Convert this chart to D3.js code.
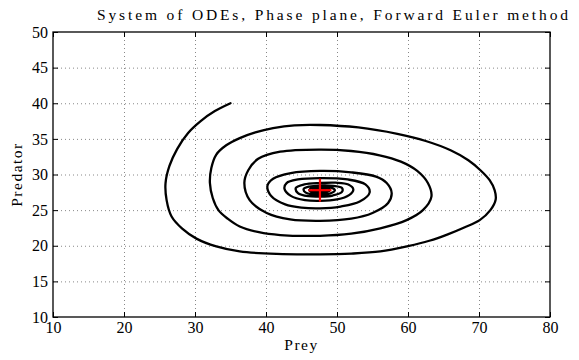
<!DOCTYPE html>
<html>
<head>
<meta charset="utf-8">
<script src="https://cdn.jsdelivr.net/npm/d3@7"></script>
<style>
  html, body { margin: 0; padding: 0; background: #fff; }
  svg { display: block; }
  text { font-family: "Liberation Serif", "DejaVu Serif", serif; fill: #000; }
</style>
</head>
<body>
<svg id="chart" width="579" height="360"></svg>
<script>
// Trajectory of the predator-prey system (prey, predator), in order of time
const preyValues = [
  35.0, 32.8, 30.8, 29.0, 27.5, 26.4, 25.85, 26.0, 26.7, 28.2, 30.2, 33.0, 36.3, 41.5, 47.6, 52.0, 56.1,
  60.0, 63.0, 65.6, 68.0, 70.1, 71.6, 72.35, 72.2, 71.5, 70.2, 68.5, 66.0, 62.5, 58.5, 53.0, 47.6,
  44.0, 41.0, 38.5, 36.3, 34.4, 33.0, 32.3, 32.1, 32.5, 33.3, 34.6, 36.3, 39.0, 42.0, 47.6, 52.0,
  56.1, 59.8, 62.1, 63.3, 62.8, 61.3, 59.0, 56.0, 52.0, 47.6, 42.0, 38.9, 37.5, 36.95, 37.7,
  40.1, 43.4, 47.6, 52.0, 55.0, 57.2, 57.7, 57.0, 55.5, 52.0, 47.6, 43.5, 41.0, 40.2, 40.8,
  42.7, 45.0, 47.6, 50.5, 53.2, 54.6, 54.0, 51.5, 47.6, 44.5, 42.9, 42.6, 43.5, 45.5, 47.6,
  50.0, 51.7, 52.3, 51.6, 49.8, 47.6, 45.4, 44.2, 44.5, 46.0, 47.6, 49.4, 50.7, 50.7, 49.5,
  47.6, 46.1, 45.3, 45.6, 46.6, 47.6, 48.9, 49.7, 49.2, 47.6, 46.5, 46.1, 46.5, 47.6, 48.6,
  49.0, 48.6, 47.6, 46.8, 46.6, 47.0, 47.6, 48.2, 48.4, 47.6, 47.1, 47.6, 47.9, 47.6
];
const predatorValues = [
  40.0, 38.9, 37.5, 35.8, 33.6, 31.2, 28.8, 26.4, 24.1, 22.4, 21.0, 19.9, 19.2, 18.85, 18.8, 18.9, 19.2,
  19.95, 20.7, 21.6, 22.6, 23.6, 25.0, 26.5, 27.8, 29.2, 30.6, 32.0, 33.4, 34.7, 35.7, 36.6, 36.95,
  36.9, 36.5, 35.9, 35.1, 34.1, 32.8, 30.9, 28.8, 26.7, 25.0, 23.8, 22.7, 21.9, 21.5, 21.4, 21.7,
  22.45, 23.6, 25.0, 26.9, 28.8, 30.5, 31.8, 32.7, 33.3, 33.5, 33.2, 32.2, 30.6, 28.8, 26.4,
  24.6, 23.7, 23.5, 23.8, 24.6, 26.0, 27.4, 28.8, 29.7, 30.3, 30.5, 30.2, 29.4, 28.4, 26.9,
  25.8, 25.35, 25.25, 25.5, 26.2, 27.5, 28.6, 29.3, 29.5, 29.3, 28.8, 28.0, 27.0, 26.4, 26.3,
  26.5, 27.1, 27.9, 28.6, 28.85, 28.8, 28.6, 28.1, 27.4, 26.95, 26.9, 27.05, 27.55, 28.1, 28.4,
  28.45, 28.3, 27.95, 27.45, 27.2, 27.15, 27.3, 27.75, 28.15, 28.25, 28.1, 27.85, 27.5, 27.4, 27.55,
  27.8, 28.05, 28.1, 27.95, 27.8, 27.6, 27.55, 27.65, 27.8, 27.95, 27.8, 27.7, 27.8, 27.85
];

// Equilibrium point (red cross)
const equilibriumPrey = [47.6];
const equilibriumPredator = [27.8];

// Axis ticks and labels
const xTicks = [10, 20, 30, 40, 50, 60, 70, 80];
const yTicks = [10, 15, 20, 25, 30, 35, 40, 45, 50];
const titleText = "System of ODEs, Phase plane, Forward Euler method";
const xLabel = "Prey";
const yLabel = "Predator";

const svg = d3.select("#chart");
const plotLeft = 53, plotRight = 550, plotTop = 32, plotBottom = 317;

const x = d3.scaleLinear().domain([10, 80]).range([plotLeft, plotRight]);
const y = d3.scaleLinear().domain([10, 50]).range([plotBottom, plotTop]);

svg.append("rect").attr("width", 579).attr("height", 360).attr("fill", "#fff");

// dotted grid
const grid = svg.append("g").attr("class", "grid");
grid.append("g")
  .attr("transform", `translate(0,${plotBottom})`)
  .call(d3.axisBottom(x).tickValues(xTicks.slice(1, -1)).tickSize(-(plotBottom - plotTop)).tickFormat(""))
  .call(g => g.select(".domain").remove());
grid.append("g")
  .attr("transform", `translate(${plotLeft},0)`)
  .call(d3.axisLeft(y).tickValues(yTicks.slice(1, -1)).tickSize(-(plotRight - plotLeft)).tickFormat(""))
  .call(g => g.select(".domain").remove());
grid.selectAll("line")
  .attr("stroke", "#888")
  .attr("stroke-width", 1)
  .attr("stroke-dasharray", "1,3");

// trajectory
const pts = preyValues.map((v, i) => [v, predatorValues[i]]);
const line = d3.line()
  .x(d => x(d[0]))
  .y(d => y(d[1]))
  .curve(d3.curveCatmullRom.alpha(0.5));
svg.append("path")
  .datum(pts)
  .attr("d", line)
  .attr("fill", "none")
  .attr("stroke", "#000")
  .attr("stroke-width", 2.3)
  .attr("stroke-linejoin", "round")
  .attr("stroke-linecap", "round");

// equilibrium marker
const arm = 11.5;
const eq = svg.append("g").selectAll("g")
  .data(equilibriumPrey.map((v, i) => [v, equilibriumPredator[i]]))
  .join("g")
  .attr("transform", d => `translate(${x(d[0])},${y(d[1])})`);
eq.append("line").attr("x1", -arm).attr("x2", arm).attr("y1", 0).attr("y2", 0);
eq.append("line").attr("x1", 0).attr("x2", 0).attr("y1", -arm).attr("y2", arm);
eq.selectAll("line").attr("stroke", "#f00").attr("stroke-width", 2.2);

// axes with inward ticks on all four sides
const fs = 16;
const styleAxis = g => {
  g.select(".domain").remove();
  g.selectAll(".tick line").attr("stroke", "#000").attr("stroke-width", 1);
  g.selectAll("text").attr("font-size", fs).attr("font-family", "Liberation Serif, serif").attr("fill", "#000");
};
svg.append("g")
  .attr("transform", `translate(0,${plotBottom})`)
  .call(d3.axisBottom(x).tickValues(xTicks).tickSizeInner(-5).tickSizeOuter(0).tickPadding(5).tickFormat(d3.format("d")))
  .call(styleAxis);
svg.append("g")
  .attr("transform", `translate(${plotLeft},0)`)
  .call(d3.axisLeft(y).tickValues(yTicks).tickSizeInner(-5).tickSizeOuter(0).tickPadding(5).tickFormat(d3.format("d")))
  .call(styleAxis);
svg.append("g")
  .attr("transform", `translate(0,${plotTop})`)
  .call(d3.axisTop(x).tickValues(xTicks).tickSizeInner(-5).tickSizeOuter(0).tickFormat(""))
  .call(styleAxis);
svg.append("g")
  .attr("transform", `translate(${plotRight},0)`)
  .call(d3.axisRight(y).tickValues(yTicks).tickSizeInner(-5).tickSizeOuter(0).tickFormat(""))
  .call(styleAxis);

// frame
svg.append("rect")
  .attr("x", plotLeft).attr("y", plotTop)
  .attr("width", plotRight - plotLeft).attr("height", plotBottom - plotTop)
  .attr("fill", "none").attr("stroke", "#000").attr("stroke-width", 1.3);

// titles
svg.append("text")
  .attr("x", 97).attr("y", 20)
  .attr("font-size", 15.5)
  .attr("textLength", 471).attr("lengthAdjust", "spacing")
  .text(titleText);
svg.append("text")
  .attr("x", (plotLeft + plotRight) / 2).attr("y", 350)
  .attr("text-anchor", "middle")
  .attr("font-size", 15.5)
  .attr("letter-spacing", 1.5)
  .text(xLabel);
svg.append("text")
  .attr("transform", `translate(22,${(plotTop + plotBottom) / 2}) rotate(-90)`)
  .attr("text-anchor", "middle")
  .attr("font-size", 15.5)
  .attr("letter-spacing", 1.5)
  .text(yLabel);
</script>
</body>
</html>
